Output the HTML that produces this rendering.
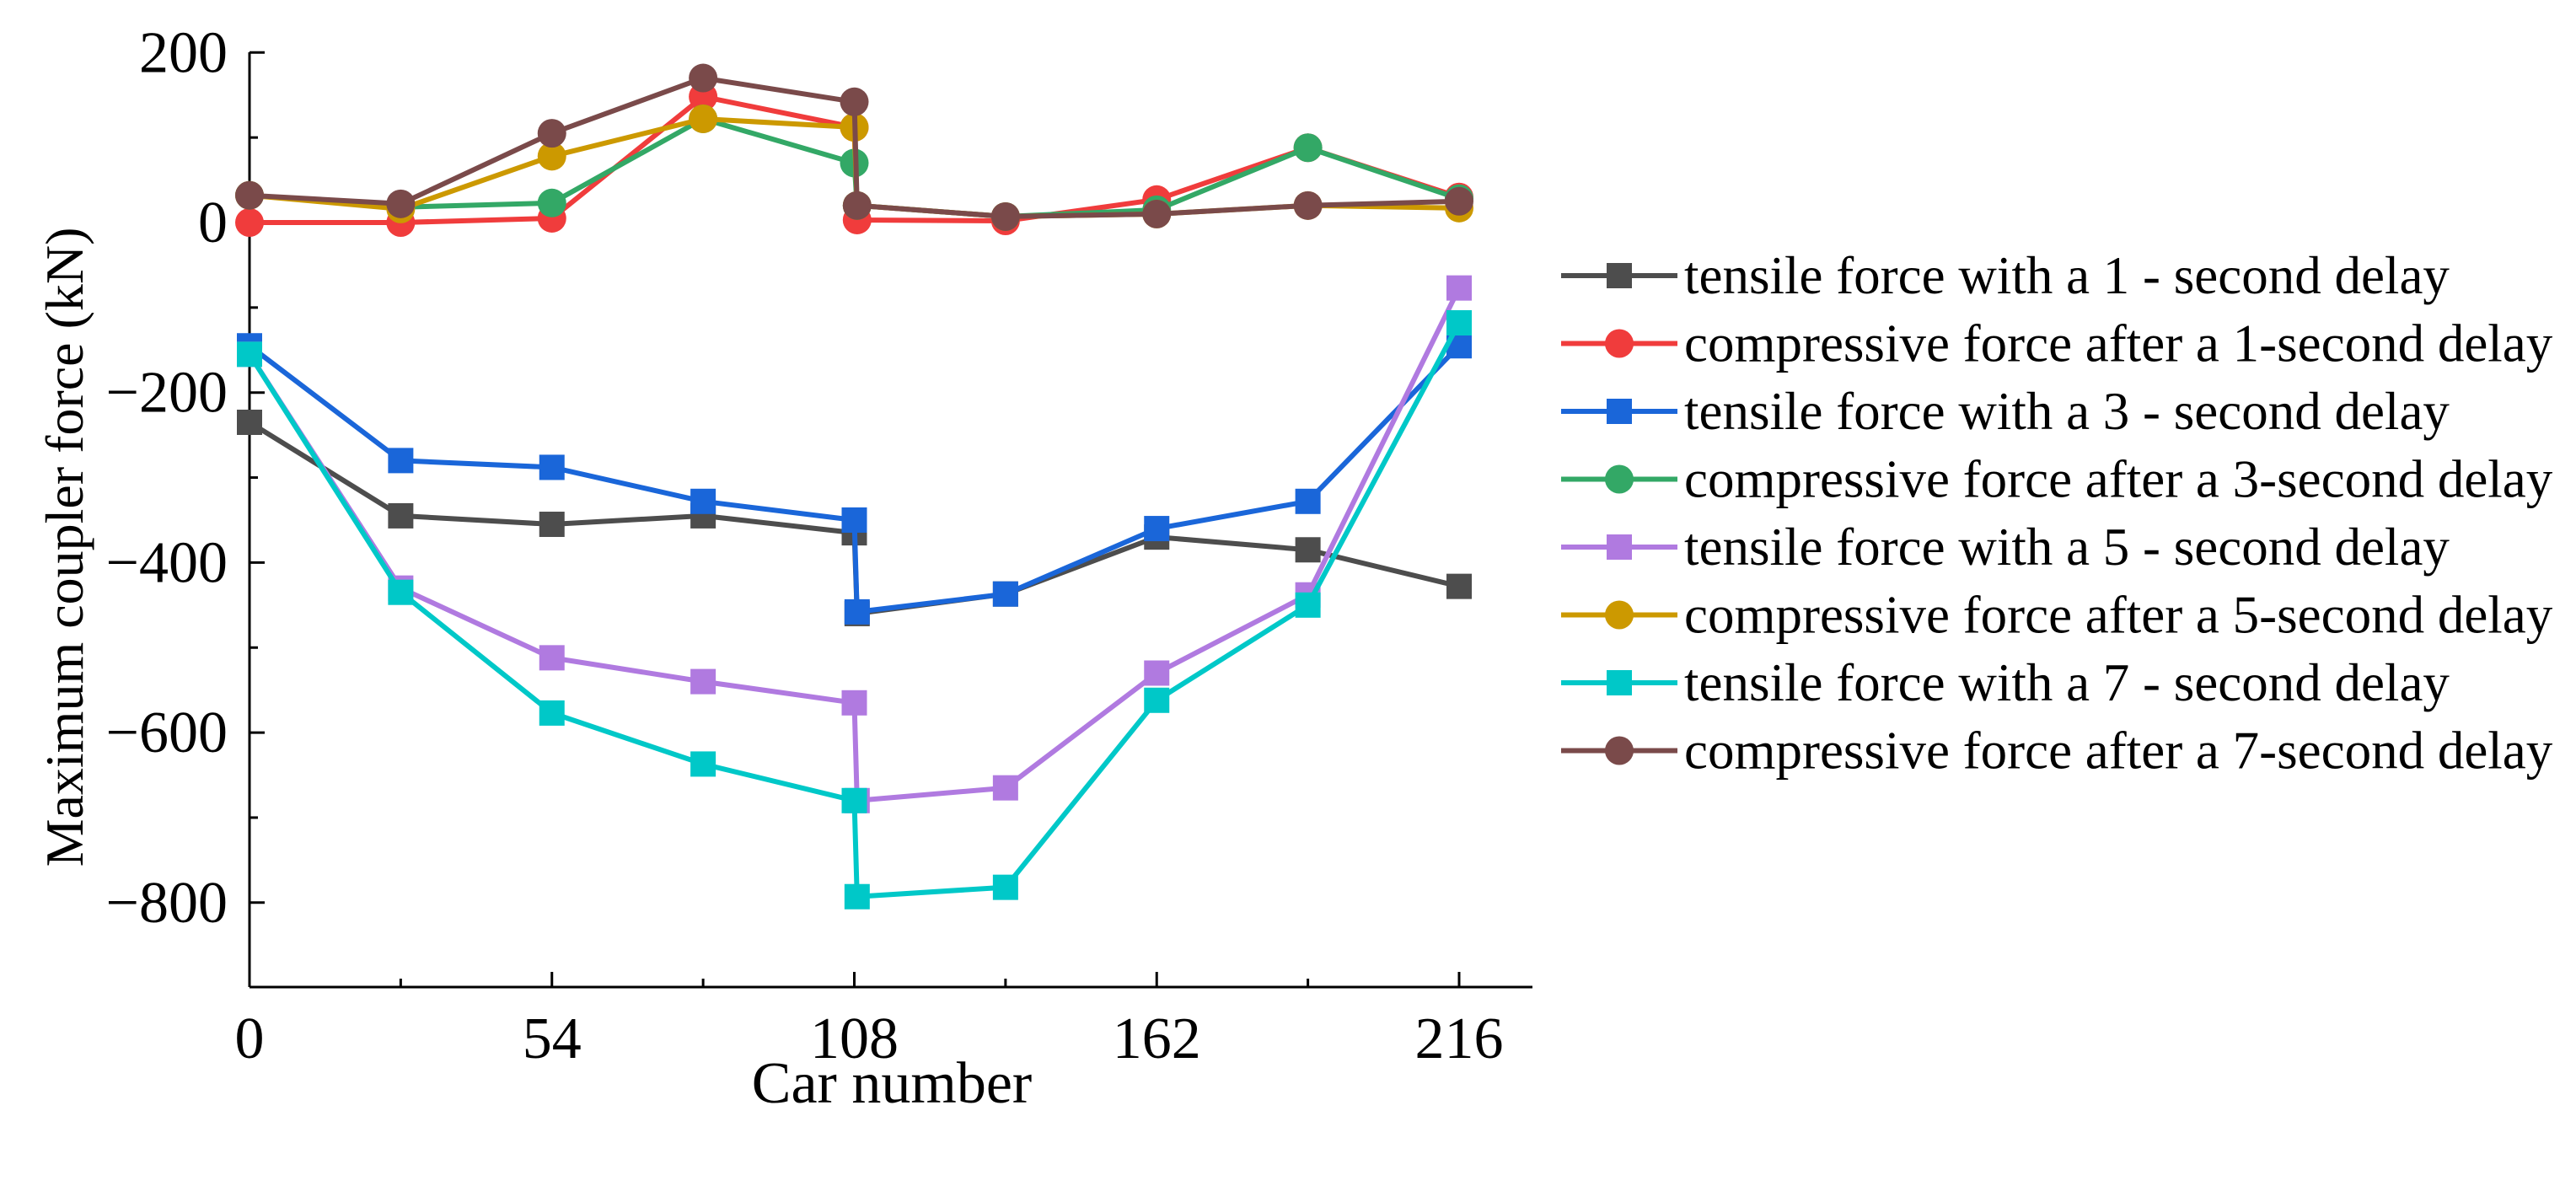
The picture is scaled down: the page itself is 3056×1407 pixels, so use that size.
<!DOCTYPE html>
<html><head><meta charset="utf-8"><style>
html,body{margin:0;padding:0;background:#fff;}
svg text{font-family:"Liberation Serif",serif;fill:#000;}
</style></head><body>
<svg id="chart" width="3056" height="1402" viewBox="0 0 3056 1402" xmlns="http://www.w3.org/2000/svg"></svg>
<script>
const carNumbers=[0,27,54,81,108,108.5,135,162,189,216];
const tensile1=[-235,-345,-355,-345,-365,-460,-437,-370,-385,-428];
const compress1=[0,0,5,148,112,3,2,27,88,30];
const tensile3=[-145,-280,-288,-328,-350,-458,-437,-360,-328,-145];
const compress3=[32,18,23,122,70,20,7,15,88,28];
const tensile5=[-155,-430,-512,-540,-565,-680,-665,-530,-438,-77];
const compress5=[32,16,78,122,112,20,7,10,20,17];
const tensile7=[-155,-435,-577,-637,-680,-793,-782,-562,-450,-118];
const compress7=[32,22,105,170,142,20,7,10,20,25];
const seriesNames=["tensile force with a 1 - second delay","compressive force after a 1-second delay","tensile force with a 3 - second delay","compressive force after a 3-second delay","tensile force with a 5 - second delay","compressive force after a 5-second delay","tensile force with a 7 - second delay","compressive force after a 7-second delay"];
const xTicks=[0,54,108,162,216];
const xMinor=[27,81,135,189];
const yTicks=[200,0,-200,-400,-600,-800];
const yMinor=[100,-100,-300,-500,-700];

const svg=document.getElementById('chart');
const NS='http://www.w3.org/2000/svg';
const X0=296,XR=1818,YT=62,YB=1171;
const xs=v=>296+v*(1731-296)/216;
const ys=v=>264-v*(201.7/200);
function mk(tag,attrs){const e=document.createElementNS(NS,tag);for(const k in attrs)e.setAttribute(k,attrs[k]);svg.appendChild(e);return e;}

let a=mk('line',{x1:X0,y1:YT,x2:X0,y2:YB,stroke:'#000','stroke-width':3});


a=mk('line',{x1:X0,y1:YB,x2:XR,y2:YB,stroke:'#000','stroke-width':3});



xTicks.forEach(v=>{
  const t=mk('line',{x1:xs(v),y1:YB,x2:xs(v),y2:YB-18,stroke:'#000','stroke-width':3});
  
  
  const l=mk('text',{x:xs(v),y:1255,'font-size':70,'text-anchor':'middle'});
  l.textContent=v;
  
  
});
xMinor.forEach(v=>{
  const t=mk('line',{x1:xs(v),y1:YB,x2:xs(v),y2:YB-10,stroke:'#000','stroke-width':3});
  
  
});
yTicks.forEach(v=>{
  const t=mk('line',{x1:X0,y1:ys(v),x2:X0+18,y2:ys(v),stroke:'#000','stroke-width':3});
  
  
  const l=mk('text',{x:270,y:ys(v)+23,'font-size':70,'text-anchor':'end'});
  l.textContent=v<0?'\u2212'+(-v):v;
  
  
});
yMinor.forEach(v=>{
  const t=mk('line',{x1:X0,y1:ys(v),x2:X0+10,y2:ys(v),stroke:'#000','stroke-width':3});
  
  
});

let tt=mk('text',{x:1058,y:1308,'font-size':70,'text-anchor':'middle'});
tt.textContent='Car number';


tt=mk('text',{x:0,y:0,'font-size':64,'text-anchor':'middle',transform:'translate(98,649) rotate(-90)'});
tt.textContent='Maximum coupler force (kN)';



const allSeries=[tensile1,compress1,tensile3,compress3,tensile5,compress5,tensile7,compress7];
const colors=['#4d4d4d','#f03c3c','#1a66d9','#33a866','#b07ae0','#cc9900','#00c8c8','#7a4a4a'];
const shapes=['sq','ci','sq','ci','sq','ci','sq','ci'];
function marker(shape,x,y,c){
  let m;
  if(shape==='sq') m=mk('rect',{x:x-15,y:y-15,width:30,height:30,fill:c});
  else m=mk('circle',{cx:x,cy:y,r:17,fill:c});
  return m;
}
allSeries.forEach((s,i)=>{
  const pts=s.map((v,j)=>xs(carNumbers[j]).toFixed(1)+','+ys(v).toFixed(1)).join(' ');
  const pl=mk('polyline',{points:pts,fill:'none',stroke:colors[i],'stroke-width':6,'stroke-linejoin':'round'});
  
  
  s.forEach((v,j)=>{
    const m=marker(shapes[i],xs(carNumbers[j]),ys(v),colors[i]);
    
    
  });
});

seriesNames.forEach((n,i)=>{
  const y=327+i*80.5;
  const g=mk('line',{x1:1852,y1:y,x2:1990,y2:y,stroke:colors[i],'stroke-width':6});
  
  
  const m=marker(shapes[i],1921,y,colors[i]);
  
  
  const t=mk('text',{x:1998,y:y+21,'font-size':63});
  t.textContent=n;
  
  
});
</script>
</body></html>
